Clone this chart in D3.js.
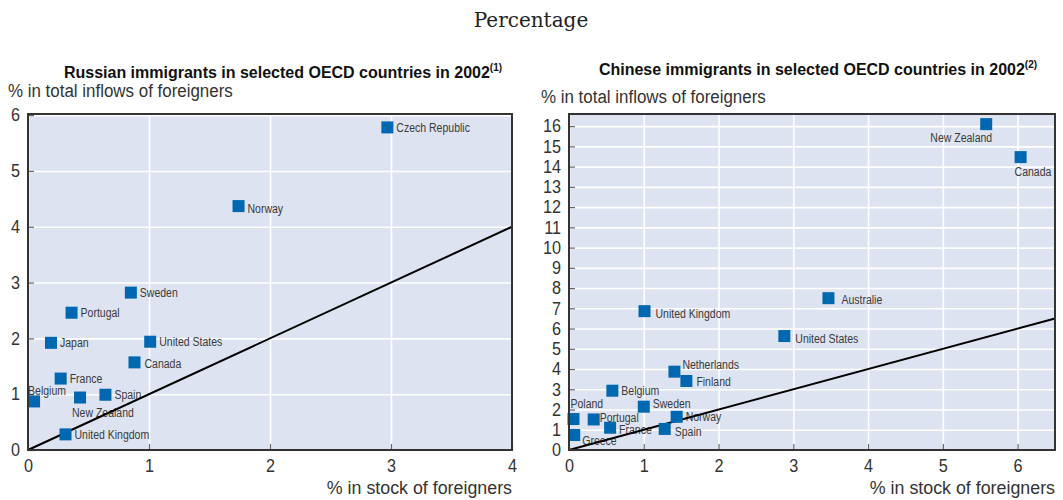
<!DOCTYPE html>
<html><head><meta charset="utf-8">
<script src="https://cdn.jsdelivr.net/npm/d3@7"></script>
<style>
body{margin:0;background:#fff;}
svg{display:block;}
text{font-family:'Liberation Sans',Arial,sans-serif;fill:#333;}
</style></head><body><svg id="chart" width="1063" height="500"></svg>
<script>
// ---- Russian immigrants (left panel) ----
const ruCountries = ["Czech Republic","Norway","Sweden","Portugal","Japan","United States","Canada","France","Belgium","New Zealand","Spain","United Kingdom"];
const ruStock     = [2.97, 1.74, 0.85, 0.36, 0.19, 1.01, 0.88, 0.27, 0.05, 0.43, 0.64, 0.31];
const ruInflow    = [5.78, 4.37, 2.82, 2.46, 1.92, 1.94, 1.57, 1.28, 0.87, 0.94, 0.99, 0.28];
const ruXTicks = [0,1,2,3,4];
const ruYTicks = [0,1,2,3,4,5,6];

// ---- Chinese immigrants (right panel) ----
const cnCountries = ["New Zealand","Canada","Australie","United Kingdom","United States","Netherlands","Finland","Belgium","Sweden","Poland","Portugal","Norway","France","Spain","Greece"];
const cnStock     = [5.58, 6.04, 3.47, 1.01, 2.88, 1.41, 1.57, 0.58, 1.00, 0.06, 0.33, 1.44, 0.55, 1.28, 0.07];
const cnInflow    = [16.1, 14.47, 7.5, 6.86, 5.63, 3.87, 3.41, 2.93, 2.14, 1.53, 1.51, 1.64, 1.10, 1.04, 0.74];
const cnXTicks = [0,1,2,3,4,5,6];
const cnYTicks = [0,1,2,3,4,5,6,7,8,9,10,11,12,13,14,15,16];

// ---- label layout (placement only) ----
const ruLabelLayout = {
  "Belgium": {dx:-6, dy:-11},
  "New Zealand": {dx:-8, dy:15},
  "Canada": {dx:10, dy:1},
  "Norway": {dx:9, dy:2}
};
const cnLabelLayout = {
  "New Zealand": {dx:6, dy:13, anchor:"end"},
  "Canada": {dx:-6, dy:14},
  "Australie": {dx:13, dy:1},
  "United Kingdom": {dx:11, dy:2},
  "United States": {dx:11, dy:2},
  "Netherlands": {dx:8, dy:-7},
  "Finland": {dx:10, dy:1},
  "Sweden": {dx:9, dy:-3},
  "Poland": {dx:-3, dy:-16},
  "Portugal": {dx:6, dy:-2},
  "France": {dx:9, dy:2},
  "Spain": {dx:10, dy:3},
  "Greece": {dx:8, dy:5}
};

const svg = d3.select("#chart");
const BLUE = "#0067b1";

// condense text horizontally (emulates a condensed face)
function squeeze(sel, f){
  sel.each(function(){
    const L = this.getComputedTextLength();
    this.setAttribute("textLength", (L*f).toFixed(2));
    this.setAttribute("lengthAdjust","spacingAndGlyphs");
  });
}

svg.append("text").attr("x",531).attr("y",27).attr("text-anchor","middle")
  .style("font-family","'DejaVu Serif',serif").style("font-size","20px").style("fill","#222")
  .text("Percentage");

function drawPanel(p){
  const x = d3.scaleLinear().domain(p.xDomain).range([p.left,p.right]);
  const y = d3.scaleLinear().domain(p.yDomain).range([p.bottom,p.top]);
  const W = p.right-p.left, H = p.bottom-p.top;
  const g = svg.append("g");

  // title
  const t = g.append("text").attr("x",p.titleX).attr("y",p.titleY).attr("text-anchor","middle")
    .style("font-weight","bold").style("font-size","16px").style("fill","#111");
  t.append("tspan").text(p.title);
  t.append("tspan").attr("dy",-7).style("font-size","10px").text(p.note);

  squeeze(g.append("text").attr("x",p.yTitleX).attr("y",p.yTitleY).style("font-size","18px").text("% in total inflows of foreigners"), 0.94);
  squeeze(g.append("text").attr("x",p.right).attr("y",494).attr("text-anchor","end").style("font-size","18px").text("% in stock of foreigners"), 0.99);

  g.append("rect").attr("x",p.left).attr("y",p.top).attr("width",W).attr("height",H).attr("fill","#dee3f1");

  // grid
  g.append("g").attr("transform",`translate(0,${p.bottom})`)
    .call(d3.axisBottom(x).tickValues(p.xTicks).tickSize(-H).tickFormat(""))
    .call(s=>{s.select(".domain").remove(); s.selectAll("line").attr("stroke","#fff").attr("stroke-width",1.6);});
  g.append("g").attr("transform",`translate(${p.left},0)`)
    .call(d3.axisLeft(y).tickValues(p.yTicks).tickSize(-W).tickFormat(""))
    .call(s=>{s.select(".domain").remove(); s.selectAll("line").attr("stroke","#fff").attr("stroke-width",1.6);});

  // axes
  const xa = g.append("g").attr("transform",`translate(0,${p.bottom})`)
    .call(d3.axisBottom(x).tickValues(p.xTicks).tickSize(-6).tickPadding(9).tickFormat(d3.format("d")))
    .call(s=>{s.select(".domain").remove(); s.selectAll("line").attr("stroke","#666").attr("stroke-width",1.2);
      s.selectAll("text").style("font-size","18px").style("fill","#333").style("font-family",null);});
  squeeze(xa.selectAll("text"), 0.9);
  const ya = g.append("g").attr("transform",`translate(${p.left},0)`)
    .call(d3.axisLeft(y).tickValues(p.yTicks).tickSize(-6).tickPadding(8).tickFormat(d3.format("d")))
    .call(s=>{s.select(".domain").remove(); s.selectAll("line").attr("stroke","#666").attr("stroke-width",1.2);
      s.selectAll("text").style("font-size","18px").style("fill","#333").style("font-family",null);});
  squeeze(ya.selectAll("text"), 0.9);

  const pts = p.names.map((n,i)=>({name:n, sx:p.stock[i], fy:p.inflow[i]}));

  // labels
  const lab = g.append("g").selectAll("text").data(pts).join("text")
    .attr("x",d=>x(d.sx)+((p.layout[d.name]||{}).dx ?? 9))
    .attr("y",d=>y(d.fy)+((p.layout[d.name]||{}).dy ?? 0))
    .attr("dy","0.36em")
    .attr("text-anchor",d=>(p.layout[d.name]||{}).anchor||"start")
    .style("font-size","12.5px").style("fill","#3a3a3a")
    .text(d=>d.name);
  squeeze(lab, 0.84);

  // 45° line
  const m = p.xDomain[1];
  g.append("path").datum([[0,0],[m,m]])
    .attr("d",d3.line().x(d=>x(d[0])).y(d=>y(d[1])))
    .attr("stroke","#000").attr("stroke-width",2).attr("fill","none");

  // markers
  const S = 12;
  g.append("g").selectAll("rect").data(pts).join("rect")
    .attr("x",d=>x(d.sx)-S/2).attr("y",d=>y(d.fy)-S/2).attr("width",S).attr("height",S).attr("fill",BLUE);

  g.append("rect").attr("x",p.left).attr("y",p.top).attr("width",W).attr("height",H)
    .attr("fill","none").attr("stroke","#333").attr("stroke-width",2);
}

drawPanel({left:28,right:512,top:114,bottom:450,xDomain:[0,4],yDomain:[0,6.02],xTicks:ruXTicks,yTicks:ruYTicks,
  names:ruCountries,stock:ruStock,inflow:ruInflow,layout:ruLabelLayout,
  title:"Russian immigrants in selected OECD countries in 2002",note:"(1)",titleX:283,titleY:78,yTitleX:8,yTitleY:97});
drawPanel({left:569,right:1055,top:114,bottom:450,xDomain:[0,6.5],yDomain:[0,16.6],xTicks:cnXTicks,yTicks:cnYTicks,
  names:cnCountries,stock:cnStock,inflow:cnInflow,layout:cnLabelLayout,
  title:"Chinese immigrants in selected OECD countries in 2002",note:"(2)",titleX:818,titleY:75,yTitleX:541,yTitleY:103});
</script></body></html>
